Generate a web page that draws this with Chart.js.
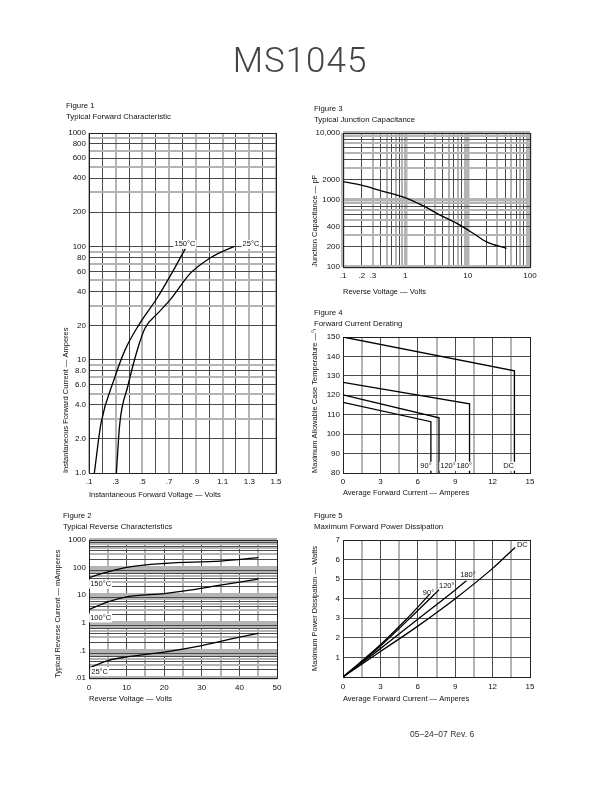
<!DOCTYPE html>
<html>
<head>
<meta charset="utf-8">
<script src="https://cdn.jsdelivr.net/npm/chart.js"></script>
<style>
  body { margin: 0; width: 612px; height: 792px; background: #fff; position: relative; font-family: "Liberation Sans", Arial, sans-serif; color: #111; }
  canvas { position: absolute; }
  .cap { position: absolute; font-size: 7.8px; line-height: 10.5px; white-space: nowrap; will-change: transform; }
  #title { position: absolute; left: 0; width: 600px; top: 40px; text-align: center; font-family: Roboto, "Liberation Sans", sans-serif; font-weight: 300; font-size: 35px; color: #444; letter-spacing: 1px; will-change: transform; }
  #rev { position: absolute; left: 410px; top: 729px; font-size: 8.5px; color: #333; will-change: transform; }
</style>
</head>
<body>
<div id="title">MS1045</div>
<div class="cap" style="left:66px;top:101px">Figure 1<br>Typical Forward Characteristic</div>
<div class="cap" style="left:314px;top:104px">Figure 3<br>Typical Junction Capacitance</div>
<div class="cap" style="left:314px;top:308px">Figure 4<br>Forward Current Derating</div>
<div class="cap" style="left:63px;top:511px">Figure 2<br>Typical Reverse Characteristics</div>
<div class="cap" style="left:314px;top:511px">Figure 5<br>Maximum Forward Power Dissipation</div>
<div id="rev">05–24–07 Rev. 6</div>

<canvas id="fig1"></canvas>
<canvas id="fig3"></canvas>
<canvas id="fig4"></canvas>
<canvas id="fig2"></canvas>
<canvas id="fig5"></canvas>

<script>
// Figure 1 - forward characteristic
const fwdV150 = [0.14, 0.19, 0.29, 0.37, 0.47, 0.61, 0.72, 0.83];
const fwdI150 = [1.0, 2.75, 6.8, 12.2, 20, 35, 58, 100];
const fwdV25 = [0.305, 0.33, 0.39, 0.46, 0.52, 0.62, 0.71, 0.86, 1.0, 1.08, 1.19];
const fwdI25 = [1.0, 2.7, 5.8, 12, 19, 26, 34, 58, 78, 88, 100];
const fig1XTicks = [0.1, 0.3, 0.5, 0.7, 0.9, 1.1, 1.3, 1.5];
const fig1XText = ['.1', '.3', '.5', '.7', '.9', '1.1', '1.3', '1.5'];
const fig1YTicks = [1, 2, 4, 6, 8, 10, 20, 40, 60, 80, 100, 200, 400, 600, 800, 1000];
const fig1YText = ['1.0', '2.0', '4.0', '6.0', '8.0', '10', '20', '40', '60', '80', '100', '200', '400', '600', '800', '1000'];

// Figure 3 - junction capacitance
const capV = [0.1, 0.19, 0.4, 1.06, 1.95, 3.6, 6.7, 12.4, 20, 42];
const capPF = [1880, 1680, 1380, 1060, 815, 596, 447, 316, 237, 190];
const fig3XTicks = [0.1, 0.2, 0.3, 1, 10, 100];
const fig3XText = ['.1', '.2', '.3', '1', '10', '100'];
const fig3YTicks = [100, 200, 400, 1000, 2000, 10000];
const fig3YText = ['100', '200', '400', '1000', '2000', '10,000'];

// Figure 4 - forward current derating
const derDCx = [0, 13.75, 13.75];
const derDCy = [150, 132.6, 80];
const der180x = [0, 10.15, 10.15];
const der180y = [126.7, 115.6, 80];
const der120x = [0, 7.7, 7.7];
const der120y = [120.2, 108.4, 80];
const der90x = [0, 7.05, 7.05];
const der90y = [116.4, 106.4, 80];
const fig4XTicks = [0, 3, 6, 9, 12, 15];
const fig4YTicks = [80, 90, 100, 110, 120, 130, 140, 150];

// Figure 2 - reverse characteristics
const revV150 = [0, 5, 10, 20, 35, 45];
const revI150 = [43, 70, 102, 141, 172, 228];
const revV100 = [0, 5, 10, 20, 25, 35, 45];
const revI100 = [3.0, 5.7, 8.7, 11.5, 14, 23, 38];
const revV25 = [0, 5, 10, 20, 30, 40, 45];
const revI25 = [0.023, 0.043, 0.058, 0.087, 0.15, 0.30, 0.41];
const fig2XTicks = [0, 10, 20, 30, 40, 50];
const fig2YTicks = [0.01, 0.1, 1, 10, 100, 1000];
const fig2YText = ['.01', '.1', '1', '10', '100', '1000'];

// Figure 5 - power dissipation
const pwrDCx = [0, 3, 6, 9, 12, 13.8];
const pwrDCy = [0, 1.3, 2.6, 4.0, 5.55, 6.62];
const pwr180x = [0, 3, 6, 9, 9.9];
const pwr180y = [0, 1.45, 2.95, 4.45, 4.92];
const pwr120x = [0, 3, 6, 7.7];
const pwr120y = [0, 1.58, 3.4, 4.45];
const pwr90x = [0, 3, 5, 6.95];
const pwr90y = [0, 1.65, 2.9, 4.22];
const fig5XTicks = [0, 3, 6, 9, 12, 15];
const fig5YTicks = [1, 2, 3, 4, 5, 6, 7];

const DARK = '#4a4a4a';
const GRAY = '#b4b4b4';

Chart.defaults.font.family = '"Liberation Sans", Arial, sans-serif';
Chart.defaults.font.size = 8;
Chart.defaults.color = '#111';

function pts(xs, ys) {
  return xs.map((x, i) => ({ x: x, y: ys[i] }));
}

function same(a, b) {
  return Math.abs(a - b) < Math.abs(b) * 1e-6 + 1e-9;
}

function labelOf(v, vals, texts) {
  const i = vals.findIndex(t => same(v, t));
  if (i < 0) return '';
  return texts ? texts[i] : String(vals[i]);
}

function linGrid(a, b, step) {
  const out = [];
  for (let v = a; v <= b + 1e-9; v += step) out.push(Math.round(v * 1000) / 1000);
  return out;
}

function logGrid(a, b) {
  const out = [];
  for (let e = Math.round(Math.log10(a)); e < Math.round(Math.log10(b)); e++) {
    for (let m = 1; m < 10; m++) out.push(Math.round(m * Math.pow(10, e) * 1e6) / 1e6);
  }
  out.push(b);
  return out;
}

function mant(v) {
  return Math.round(v / Math.pow(10, Math.floor(Math.log10(v) + 1e-9)));
}

// grid styles
const styles = {
  labeled: vals => ({
    color: c => labelOf(c.tick.value, vals) !== '' ? DARK : GRAY,
    lineWidth: c => labelOf(c.tick.value, vals) !== '' ? 1 : 2
  }),
  evenTenths: {
    color: c => Math.round(c.tick.value * 10) % 2 === 0 ? DARK : GRAY,
    lineWidth: c => Math.round(c.tick.value * 10) % 2 === 0 ? 1 : 2
  },
  logMix: {
    color: c => { const m = mant(c.tick.value); return m === 1 || m % 2 === 1 ? GRAY : DARK; },
    lineWidth: c => { const m = mant(c.tick.value); return m === 1 ? 3.5 : (m % 2 === 1 ? 2 : 1); }
  },
  allDark: { color: DARK, lineWidth: 1 }
};

const frame = {
  id: 'frame',
  beforeDatasetsDraw(chart) {
    const a = chart.chartArea, ctx = chart.ctx;
    ctx.save();
    ctx.strokeStyle = '#222';
    ctx.lineWidth = 1;
    ctx.strokeRect(a.left + 0.5, a.top + 0.5, a.right - a.left, a.bottom - a.top);
    ctx.restore();
  }
};

const textMarks = {
  id: 'textMarks',
  afterDatasetsDraw(chart, args, opts) {
    const ctx = chart.ctx, x = chart.scales.x, y = chart.scales.y;
    ctx.save();
    ctx.font = '7.5px "Liberation Sans", Arial, sans-serif';
    ctx.textBaseline = 'middle';
    (opts.items || []).forEach(it => {
      const px = x.getPixelForValue(it.x), py = y.getPixelForValue(it.y);
      const w = ctx.measureText(it.text).width;
      if (it.bg) {
        ctx.fillStyle = '#fff';
        ctx.fillRect(px - 1, py - 4.5, w + 2, 9);
      }
      ctx.fillStyle = '#111';
      ctx.fillText(it.text, px, py);
    });
    ctx.restore();
  }
};

function axis(opt) {
  return {
    type: opt.type,
    min: opt.min,
    max: opt.max,
    afterFit: s => { if (opt.width) s.width = opt.width; if (opt.height) s.height = opt.height; },
    afterBuildTicks: s => { s.ticks = opt.grid.map(v => ({ value: v })); },
    ticks: {
      autoSkip: false,
      maxRotation: 0,
      padding: opt.pad,
      callback: v => labelOf(v, opt.ticks, opt.texts)
    },
    grid: Object.assign({ drawTicks: false }, opt.style),
    border: { display: false },
    title: {
      display: true,
      text: opt.title,
      align: opt.align || 'start',
      font: { size: 7.5 },
      padding: opt.titlePad
    }
  };
}

function makeChart(id, rect, yw, xh, datasets, xOpt, yOpt, marks) {
  const c = document.getElementById(id);
  const padT = 8, padR = 14;
  const w = rect[2] - rect[0] + yw + padR;
  const h = rect[3] - rect[1] + padT + xh;
  c.width = w; c.height = h;
  c.style.width = w + 'px'; c.style.height = h + 'px';
  c.style.left = (rect[0] - yw) + 'px';
  c.style.top = (rect[1] - padT) + 'px';
  xOpt.height = xh; yOpt.width = yw;
  return new Chart(c, {
    type: 'line',
    data: {
      datasets: datasets.map(d => ({
        data: d.data,
        borderColor: '#000',
        borderWidth: 1.3,
        pointRadius: 0,
        fill: false,
        cubicInterpolationMode: d.smooth ? 'monotone' : 'default',
        tension: 0
      }))
    },
    options: {
      responsive: false,
      animation: false,
      events: [],
      layout: { padding: { top: padT, right: padR, left: 0, bottom: 0 } },
      scales: { x: axis(xOpt), y: axis(yOpt) },
      plugins: {
        legend: { display: false },
        tooltip: { enabled: false },
        textMarks: { items: marks }
      }
    },
    plugins: [frame, textMarks]
  });
}

makeChart('fig1', [89, 133, 276, 473], 30, 28,
  [{ data: pts(fwdV150, fwdI150), smooth: true }, { data: pts(fwdV25, fwdI25), smooth: true }],
  { type: 'linear', min: 0.1, max: 1.5, grid: linGrid(0.1, 1.5, 0.1), ticks: fig1XTicks, texts: fig1XText,
    style: styles.evenTenths, pad: 3.5, title: 'Instantaneous Forward Voltage — Volts', titlePad: { top: 0, bottom: 1.5 } },
  { type: 'logarithmic', min: 1, max: 1000, grid: logGrid(1, 1000), ticks: fig1YTicks, texts: fig1YText,
    style: styles.labeled(fig1YTicks), pad: 3, title: 'Instantaneous Forward Current — Amperes', titlePad: { top: 2.5, bottom: 0 } },
  [{ text: '150°C', x: 0.74, y: 104, bg: true }, { text: '25°C', x: 1.25, y: 104, bg: true }]);

makeChart('fig3', [343, 133, 530, 267], 34, 30,
  [{ data: pts(capV, capPF), smooth: true }],
  { type: 'logarithmic', min: 0.1, max: 100, grid: logGrid(0.1, 100), ticks: fig3XTicks, texts: fig3XText,
    style: styles.logMix, pad: 3.5, title: 'Reverse Voltage — Volts', titlePad: { top: 0, bottom: 1 } },
  { type: 'logarithmic', min: 100, max: 10000, grid: logGrid(100, 10000), ticks: fig3YTicks, texts: fig3YText,
    style: styles.logMix, pad: 3, title: 'Junction Capacitance — pF', titlePad: { top: 1.5, bottom: 0 } },
  []);

makeChart('fig4', [343, 337, 530, 473], 34, 26,
  [{ data: pts(derDCx, derDCy) }, { data: pts(der180x, der180y) }, { data: pts(der120x, der120y) }, { data: pts(der90x, der90y) }],
  { type: 'linear', min: 0, max: 15, grid: linGrid(0, 15, 1.5), ticks: fig4XTicks,
    style: styles.labeled(fig4XTicks), pad: 4, title: 'Average Forward Current — Amperes', titlePad: { top: 0, bottom: 1.5 } },
  { type: 'linear', min: 80, max: 150, grid: linGrid(80, 150, 10), ticks: fig4YTicks,
    style: styles.allDark, pad: 3, title: 'Maximum Allowable Case Temperature —°C', titlePad: { top: 1.5, bottom: 0 } },
  [{ text: '90°', x: 6.2, y: 83.5, bg: true }, { text: '120°', x: 7.8, y: 83.5, bg: true },
   { text: '180°', x: 9.1, y: 83.5, bg: true }, { text: 'DC', x: 12.85, y: 83.5, bg: true }]);

makeChart('fig2', [89, 540, 277, 678], 36, 27,
  [{ data: pts(revV150, revI150), smooth: true }, { data: pts(revV100, revI100), smooth: true }, { data: pts(revV25, revI25), smooth: true }],
  { type: 'linear', min: 0, max: 50, grid: linGrid(0, 50, 5), ticks: fig2XTicks,
    style: styles.labeled(fig2XTicks), pad: 5, title: 'Reverse Voltage — Volts', titlePad: { top: 0, bottom: 1.5 } },
  { type: 'logarithmic', min: 0.01, max: 1000, grid: logGrid(0.01, 1000), ticks: fig2YTicks, texts: fig2YText,
    style: styles.logMix, pad: 3, title: 'Typical Reverse Current — mAmperes', titlePad: { top: 0, bottom: 0 } },
  [{ text: '150°C', x: 0.3, y: 25, bg: true }, { text: '100°C', x: 0.3, y: 1.5, bg: true }, { text: '25°C', x: 0.6, y: 0.017, bg: true }]);

makeChart('fig5', [343, 540, 530, 677], 34, 28,
  [{ data: pts(pwrDCx, pwrDCy), smooth: true }, { data: pts(pwr180x, pwr180y), smooth: true },
   { data: pts(pwr120x, pwr120y), smooth: true }, { data: pts(pwr90x, pwr90y), smooth: true }],
  { type: 'linear', min: 0, max: 15, grid: linGrid(0, 15, 1.5), ticks: fig5XTicks,
    style: styles.labeled(fig5XTicks), pad: 5, title: 'Average Forward Current — Amperes', titlePad: { top: 0, bottom: 1.5 } },
  { type: 'linear', min: 0, max: 7, grid: linGrid(0, 7, 1), ticks: fig5YTicks,
    style: styles.allDark, pad: 3, title: 'Maximum Power Dissipation — Watts', align: 'center', titlePad: { top: 1.5, bottom: 0 } },
  [{ text: 'DC', x: 13.95, y: 6.75 }, { text: '180°', x: 9.4, y: 5.2 }, { text: '120°', x: 7.7, y: 4.65 }, { text: '90°', x: 6.4, y: 4.3 }]);
</script>
</body>
</html>
